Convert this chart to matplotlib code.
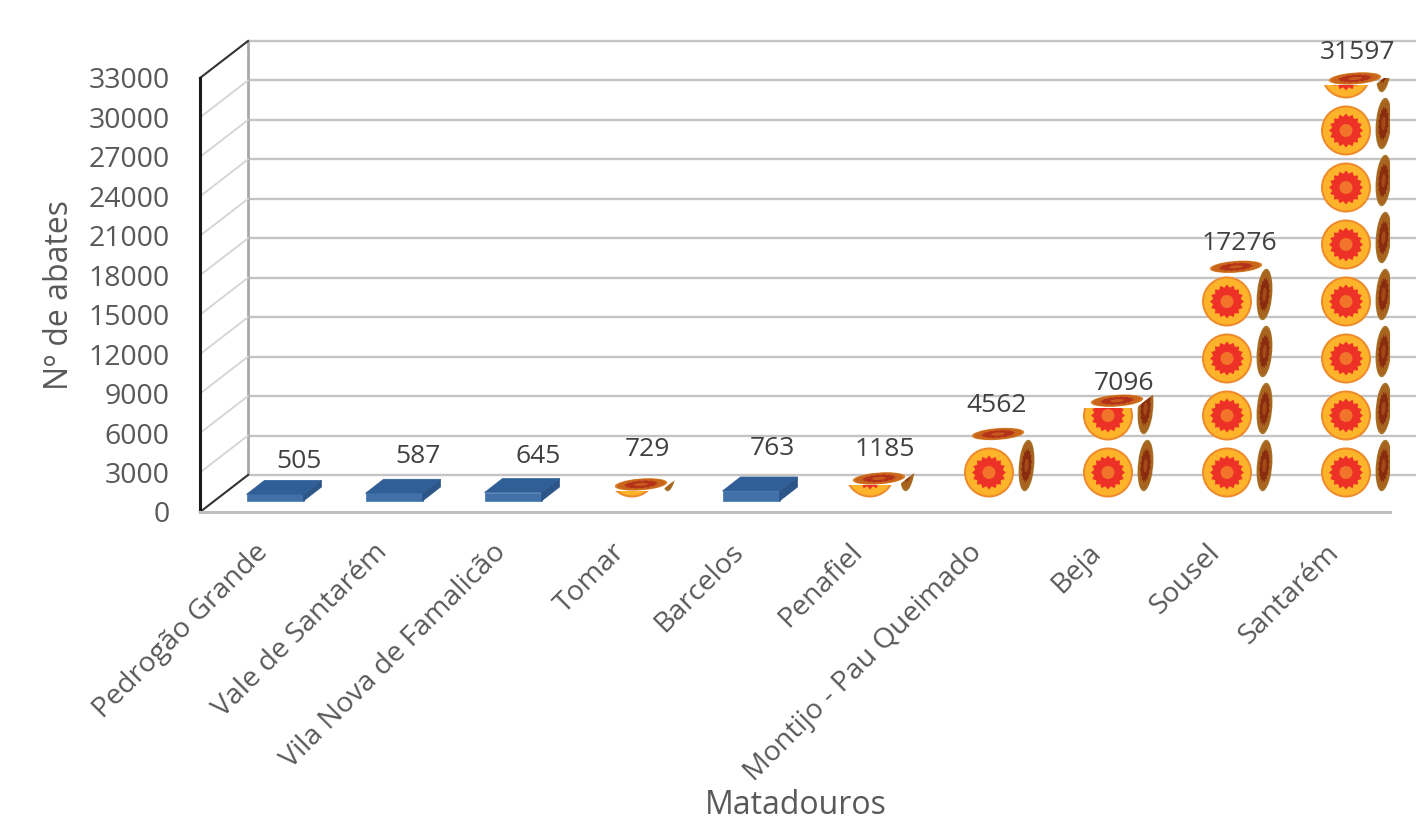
import numpy as np
import matplotlib
matplotlib.use("Agg")
import matplotlib.pyplot as plt
from matplotlib.patches import Polygon, Circle
from matplotlib.path import Path
from matplotlib.transforms import Affine2D, IdentityTransform

categories = ["Pedrogão Grande", "Vale de Santarém", "Vila Nova de Famalicão", "Tomar", "Barcelos",
              "Penafiel", "Montijo - Pau Queimado", "Beja", "Sousel", "Santarém"]
values = [505, 587, 645, 729, 763, 1185, 4562, 7096, 17276, 31597]
emblem_categories = ["Tomar", "Penafiel", "Montijo - Pau Queimado", "Beja", "Sousel", "Santarém"]
y_ticks = list(range(0, 33001, 3000))
label_shift = [(24, 33), (24, 37), (25, 36), (15, 42), (21, 42), (15, 36), (8, 36), (16, 24), (12, 30), (12, 33)]

W, H = 1416, 825
plt.rcParams["font.family"] = ["Open Sans", "DejaVu Sans"]
fig = plt.figure(figsize=(W / 100, H / 100), dpi=100)
L, R, B, T = 200, 1390, 512, 78
ax = fig.add_axes([L / W, 1 - B / H, (R - L) / W, (B - T) / H])
step, x0 = 119, 261
ax.set_xlim((L - x0) / step, (R - x0) / step)
ax.set_ylim(0, 33000)

TXT = "#595959"
ax.set_yticks(y_ticks)
ax.set_xticks(range(len(categories)))
ax.set_xticklabels(categories, rotation=45, ha="right", va="top", rotation_mode="anchor")
ax.tick_params(axis="y", length=0, pad=22, labelsize=20.5, labelcolor=TXT)
ax.tick_params(axis="x", length=0, pad=19, labelsize=20.5, labelcolor=TXT)
for lab in ax.get_xticklabels():
    lab.set_transform(lab.get_transform() + Affine2D().translate(-7, 0))
ax.set_ylabel("Nº de abates", fontsize=23, color=TXT, va="center")
ax.yaxis.set_label_coords((60 - L) / (R - L), (B - 295) / (B - T))
ax.set_xlabel("Matadouros", fontsize=23, color=TXT, va="center")
ax.xaxis.set_label_coords((796 - L) / (R - L), -(806 - B) / (B - T))
for s in ("top", "right"):
    ax.spines[s].set_visible(False)
ax.spines["left"].set_color("#1a1a1a")
ax.spines["left"].set_linewidth(2.2)
ax.spines["bottom"].set_color("#bfbfbf")
ax.spines["bottom"].set_linewidth(2.2)

# 3D depth, display pixels (y up)
wall = (48, 37)
floor_start = (14, 11)
bar_depth = (18, 14)
bar_w_px = 57
tile_px = 57

fig.canvas.draw()
to_px = ax.transData.transform
wall_tf = ax.transData + Affine2D().translate(*wall)
bar_tf = ax.transData + Affine2D().translate(*floor_start)

# walls
x_start = (L - x0) / step
x_end = (W - wall[0] - x0) / step
ax.hlines(y_ticks, x_start, x_end, colors="#c4c4c4", lw=1.7, transform=wall_tf, clip_on=False, zorder=1)
ax.vlines(x_start, 0, 33000, colors="#a8a8a8", lw=2.0, transform=wall_tf, clip_on=False, zorder=1.1)
for v in y_ticks:
    p = to_px((x_start, v))
    dark = v in (0, 33000)
    ax.plot([p[0], p[0] + wall[0]], [p[1], p[1] + wall[1]], transform=IdentityTransform(),
            color="#333333" if dark else "#d4d4d4", lw=1.5 if dark else 1.3, clip_on=False, zorder=1.2)


def unit_tf(c, ex, ey):
    return Affine2D.from_values(ex[0], ex[1], ey[0], ey[1], c[0], c[1])


def emblem(c, ex, ey, clip, pal, z):
    tf = unit_tf(c, ex, ey)
    n = 32
    ang = np.linspace(0, 2 * np.pi, n, endpoint=False)
    rad = np.where(np.arange(n) % 2 == 0, 0.68, 0.56)
    star = np.column_stack([rad * np.cos(ang), rad * np.sin(ang)])
    shapes = [Circle((0, 0), 1.0, fc=pal[0], ec="none"),
              Circle((0, 0), 0.92, fc=pal[1], ec="none"),
              Polygon(star, closed=True, fc=pal[2], ec="none"),
              Circle((0, 0), 0.26, fc=pal[3], ec="none")]
    for s in shapes:
        s.set_transform(tf)
        ax.add_patch(s)
        s.set_zorder(z)
        if clip is not None:
            s.set_clip_path(clip, IdentityTransform())
        else:
            s.set_clip_on(False)


FRONT = ("#ee8a2c", "#fdb32a", "#ee3127", "#f2742a")
SIDE = ("#a5752c", "#a8641f", "#8a2c10", "#a34a18")
TOP = ("#d9812a", "#c9661c", "#b5321a", "#c85a1e")

bar_width = bar_w_px / step
colors = ["none" if c in emblem_categories else "#4271aa" for c in categories]
edges = ["none" if c in emblem_categories else "#4271aa" for c in categories]
bars = ax.bar(range(len(categories)), values, width=bar_width, color=colors, edgecolor=edges, linewidth=0.5,
              transform=bar_tf, clip_on=False, zorder=3)

for i, (cat, v) in enumerate(zip(categories, values)):
    a = np.array(to_px((i, 0))) + floor_start + (-bar_w_px / 2, 0)
    t = np.array(to_px((i, v))) + floor_start + (-bar_w_px / 2, 0)
    d = np.array(bar_depth, float)
    w = np.array((bar_w_px, 0.0))
    side = np.array([a + w, t + w, t + w + d, a + w + d])
    top = np.array([t, t + w, t + w + d, t + d])
    front = np.array([a, a + w, t + w, t])
    if cat not in emblem_categories:
        ax.add_patch(Polygon(side, closed=True, fc="#2c5688", ec="#2c5688", lw=0.5, transform=IdentityTransform(),
                             clip_on=False, zorder=3.1))
        ax.add_patch(Polygon(top, closed=True, fc="#305f97", ec="#305f97", lw=0.5, transform=IdentityTransform(),
                             clip_on=False, zorder=3.1))
    else:
        r = 0.44
        n_tiles = int(np.ceil((t[1] - a[1]) / tile_px))
        clip_f = Path(np.vstack([front, front[0]]), closed=True)
        clip_s = Path(np.vstack([side, side[0]]), closed=True)
        for k in range(n_tiles):
            cy = a[1] + tile_px * (k + 0.5)
            emblem((a[0] + bar_w_px / 2, cy), (25, 0), (0, 25), clip_f, FRONT, 3)
            emblem((a[0] + bar_w_px + d[0] / 2, cy + d[1] / 2), (d[0] * r, d[1] * r), (0, 25), clip_s, SIDE, 3)
        emblem(t + w / 2 + d / 2, (25, 0), (d[0] * r, d[1] * r), None, TOP, 3.2)
    dx, dy = label_shift[i]
    lx = a[0] + bar_w_px / 2 + dx
    ly = t[1] + dy
    ax.text(lx, ly, str(v), transform=IdentityTransform(), ha="center", va="center",
            fontsize=19, color="#404040", zorder=5, clip_on=False)

fig.savefig("out.png", dpi=100, facecolor="white")
